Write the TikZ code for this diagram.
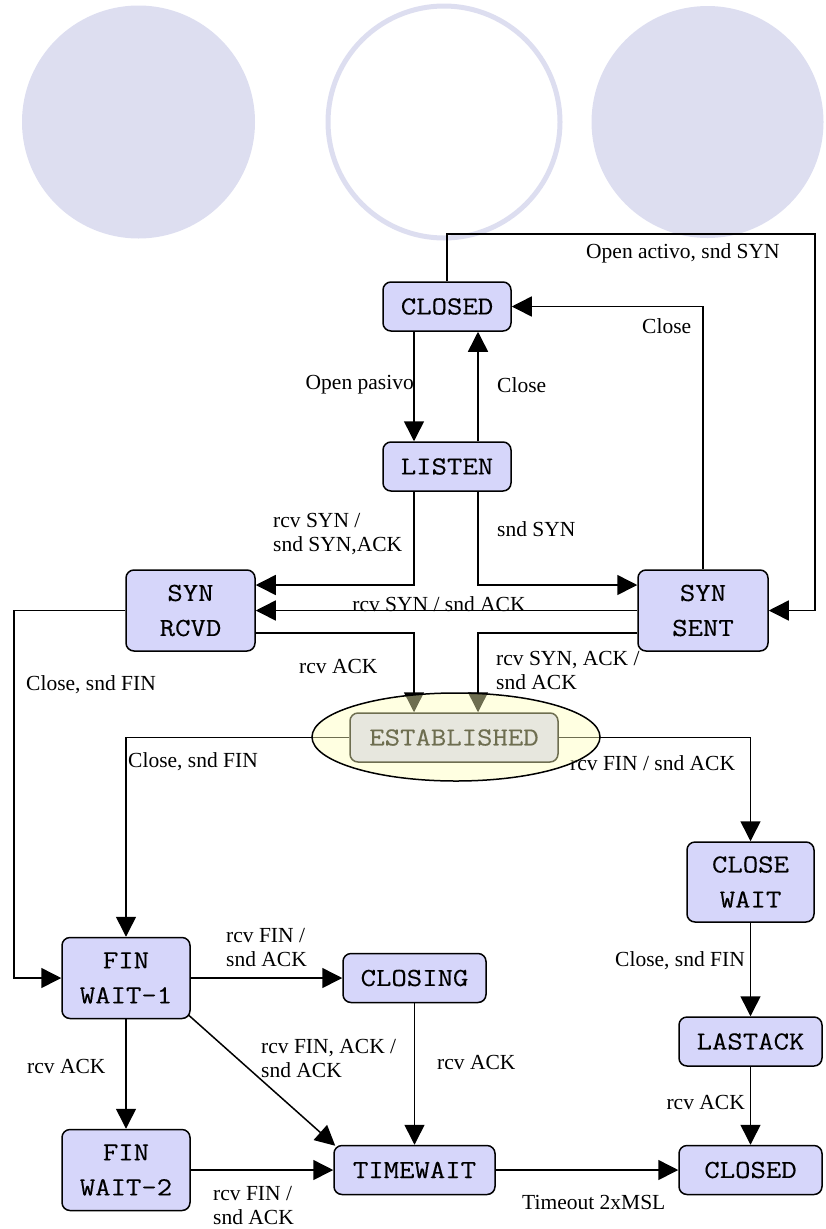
\documentclass[tikz,border=0pt]{standalone}
\usepackage{fontspec}
\setmainfont{Liberation Serif}
\newfontfamily\monof[FakeStretch=1.15,FakeBold=0.25]{Latin Modern Mono}
\usetikzlibrary{arrows.meta,shapes.geometric}
\definecolor{circfill}{RGB}{221,222,240}
\definecolor{statefill}{RGB}{214,214,250}
\definecolor{estfill}{RGB}{255,255,186}
\begin{document}
\begin{tikzpicture}[x=1pt,y=-1pt,
  state/.style={draw, line width=1.5pt, rounded corners=8pt, fill=statefill,
    font=\fontsize{26}{35}\selectfont\monof, align=center, inner sep=0pt,
    minimum width=128pt, minimum height=49pt},
  twoline/.style={minimum height=81pt},
  arr/.style={line width=1.5pt, -{Triangle[length=20pt,width=20pt]}},
  lbl/.style={font=\fontsize{21.5}{24}\selectfont, inner sep=0pt, align=left}]
\useasboundingbox (0,0) rectangle (825,1229);

% background circles
\fill[circfill] (138.5,122) circle[radius=116.5];
\draw[circfill, line width=5pt, fill=white] (444,122) circle[radius=116];
\fill[circfill] (707.5,122) circle[radius=116];

% helper coordinates
\coordinate (xL) at (414,0);
\coordinate (xR) at (478,0);
\coordinate (xF) at (14,0);
\coordinate (cTop) at (815,234);

% states
\node[state] (closedA) at (447,306.5) {CLOSED};
\node[state] (listen) at (447,466.5) {LISTEN};
\node[state, twoline, minimum width=129pt] (synrcvd) at (190.5,610.5) {SYN\\RCVD};
\node[state, twoline, minimum width=130pt] (synsent) at (703,610.5) {SYN\\SENT};
\node[state, minimum width=208pt] (est) at (454,737.5) {ESTABLISHED};
\node[state, twoline, minimum width=127pt, minimum height=80pt] (closewait) at (750.5,882) {CLOSE\\WAIT};
\node[state, twoline] (finw1) at (126,978) {FIN\\WAIT-1};
\node[state, minimum width=143pt] (closing) at (414.5,978) {CLOSING};
\node[state, minimum width=143pt] (lastack) at (750.5,1041.5) {LASTACK};
\node[state, twoline] (finw2) at (126,1170) {FIN\\WAIT-2};
\node[state, minimum width=161pt] (timewait) at (414.5,1170) {TIMEWAIT};
\node[state, minimum width=143pt] (closedB) at (750.5,1170) {CLOSED};

% connectors
\draw[arr] (closedA.north) |- (cTop) |- (synsent.east);
\draw[arr] (synsent.north) |- (closedA.east);
\draw[arr] (closedA.south -| xL) -- (listen.north -| xL);
\draw[arr] (listen.north -| xR) -- (closedA.south -| xR);
\draw[arr] (listen.south -| xL) |- ([yshift=25.5pt]synrcvd.east);
\draw[arr] (listen.south -| xR) |- ([yshift=25.5pt]synsent.west);
\draw[arr] (synsent.west) -- (synrcvd.east);
\draw[arr] ([yshift=-22.5pt]synrcvd.east) -| (est.north -| xL);
\draw[arr] ([yshift=-22.5pt]synsent.west) -| (est.north -| xR);
\draw[arr] (synrcvd.west) -- (synrcvd.west -| xF) |- (finw1.west);
\draw[arr] (est.west) -| (finw1.north);
\draw[arr] (est.east) -| (closewait.north);
\draw[arr] (finw1.east) -- (closing.west);
\draw[arr] ([shift={(-2pt,4pt)}]finw1.south east) -- ([shift={(2pt,-1pt)}]timewait.north west);
\draw[arr] (finw1.south) -- (finw2.north);
\draw[arr] (closing.south) -- (timewait.north);
\draw[arr] (finw2.east) -- (timewait.west);
\draw[arr] (timewait.east) -- (closedB.west);
\draw[arr] (closewait.south) -- (lastack.north);
\draw[arr] (lastack.south) -- (closedB.north);

% labels
\node[lbl, anchor=west] (l1) at (586,253) {Open activo, snd SYN};
\node[lbl, anchor=west] (l2) at (642,326) {Close};
\node[lbl, anchor=east] (l3) at (414,385) {Open pasivo};
\node[lbl, anchor=west] (l4) at (497,385) {Close};
\node[lbl, anchor=west] (l5) at (273,534) {rcv SYN /\\snd SYN,ACK};
\node[lbl, anchor=west] (l6) at (497,529) {snd SYN};
\node[lbl] (l7) at (439,604) {rcv SYN / snd ACK};
\node[lbl, anchor=west] (l8) at (299,666) {rcv ACK};
\node[lbl, anchor=west] (l9) at (496,670.5) {rcv SYN, ACK /\\snd ACK};
\node[lbl, anchor=west] (l10) at (26,685) {Close, snd FIN};
\node[lbl, anchor=west] (l11) at (128,762) {Close, snd FIN};
\node[lbl, anchor=west] (l12) at (570,763) {rcv FIN / snd ACK};
\node[lbl, anchor=west] (l13) at (226,947.5) {rcv FIN /\\snd ACK};
\node[lbl, anchor=west] (l14) at (261,1058) {rcv FIN, ACK /\\snd ACK};
\node[lbl, anchor=west] (l15) at (27,1066) {rcv ACK};
\node[lbl, anchor=west] (l16) at (437,1062) {rcv ACK};
\node[lbl, anchor=east] (l17) at (745,961) {Close, snd FIN};
\node[lbl, anchor=east] (l18) at (745,1102) {rcv ACK};
\node[lbl, anchor=west] (l19) at (213,1205.5) {rcv FIN /\\snd ACK};
\node[lbl, anchor=west] (l20) at (522,1202) {Timeout 2xMSL};

% translucent ellipse over ESTABLISHED
\node[ellipse, draw, line width=1.5pt, fill=estfill, fill opacity=0.43,
  minimum width=288pt, minimum height=88pt, inner sep=0pt] (estring) at (456,737) {};
\end{tikzpicture}
\end{document}
